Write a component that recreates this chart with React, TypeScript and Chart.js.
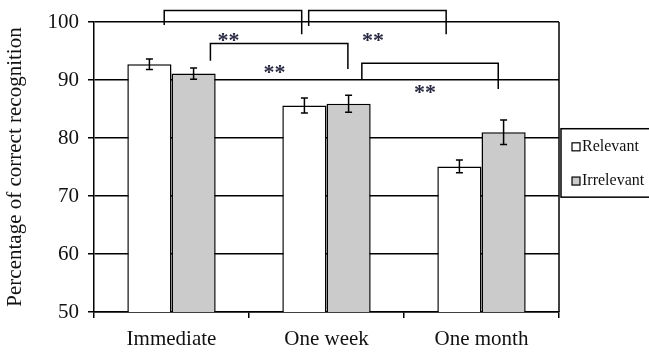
import React, { useEffect, useRef } from 'react';
import { Chart, registerables } from 'chart.js';

Chart.register(...registerables);

const categories = ['Immediate', 'One week', 'One month'];
const seriesLabels = ['Relevant', 'Irrelevant'];
const relevant = [92.7, 85.6, 75.1];
const irrelevant = [91.1, 85.9, 81.0];
const relevantErr = [0.9, 1.3, 1.1];
const irrelevantErr = [0.95, 1.45, 2.1];
const yMin = 50;
const yMax = 100;
const yStep = 10;
const yTitle = 'Percentage of correct recognition';

// significance brackets (x in category units, y in percent)
const bracketStart = [-0.047, 0.885, 0.251, 1.228];
const bracketEnd = [0.84, 1.772, 1.138, 2.108];
const bracketTop = [102.0, 102.0, 96.3, 92.9];
const bracketLeftEnd = [99.5, 99.3, 93.3, 90.0];
const bracketRightEnd = [97.9, 97.9, 91.9, 88.45];
const starX = [0.367, 1.3, 0.665, 1.636];
const starY = [97.6, 97.6, 92.0, 88.7];
const starLabels = ['**', '**', '**', '**'];

const FONT = '"Liberation Serif", "Times New Roman", serif';
const fills = ['#ffffff', '#cbcbcb'];
const errs = [relevantErr, irrelevantErr];

const extrasPlugin = {
  id: 'extras',
  afterDatasetsDraw(chart: any) {
    const ctx = chart.ctx;
    const y = chart.scales.y;
    ctx.save();
    ctx.strokeStyle = '#000';
    ctx.lineWidth = 1.5;
    chart.data.datasets.forEach((ds: any, di: number) => {
      const meta = chart.getDatasetMeta(di);
      meta.data.forEach((bar: any, i: number) => {
        const v = ds.data[i];
        const e = errs[di][i];
        const x = bar.x;
        const y1 = y.getPixelForValue(v + e);
        const y2 = y.getPixelForValue(v - e);
        ctx.beginPath();
        ctx.moveTo(x, y1);
        ctx.lineTo(x, y2);
        ctx.moveTo(x - 3.5, y1);
        ctx.lineTo(x + 3.5, y1);
        ctx.moveTo(x - 3.5, y2);
        ctx.lineTo(x + 3.5, y2);
        ctx.stroke();
      });
    });
    ctx.restore();
  },
  afterDraw(chart: any) {
    const ctx = chart.ctx;
    const xs = chart.scales.x;
    const ys = chart.scales.y;
    const area = chart.chartArea;
    ctx.save();
    ctx.strokeStyle = '#000';
    ctx.lineWidth = 1.5;
    // right border
    ctx.beginPath();
    ctx.moveTo(area.right, area.top);
    ctx.lineTo(area.right, area.bottom);
    ctx.stroke();
    // brackets
    bracketStart.forEach((bs, i) => {
      const x1 = xs.getPixelForValue(bs);
      const x2 = xs.getPixelForValue(bracketEnd[i]);
      const yt = ys.getPixelForValue(bracketTop[i]);
      const yl = ys.getPixelForValue(bracketLeftEnd[i]);
      const yr = ys.getPixelForValue(bracketRightEnd[i]);
      ctx.beginPath();
      ctx.moveTo(x1, yl);
      ctx.lineTo(x1, yt);
      ctx.lineTo(x2, yt);
      ctx.lineTo(x2, yr);
      ctx.stroke();
    });
    // stars
    ctx.fillStyle = '#2a2a44';
    ctx.font = `bold 22px ${FONT}`;
    ctx.textAlign = 'center';
    ctx.textBaseline = 'alphabetic';
    starLabels.forEach((s, i) => {
      const px = xs.getPixelForValue(starX[i]);
      const py = ys.getPixelForValue(starY[i]);
      ctx.fillText(s, px, py + 11);
    });
    // legend
    const lx = area.right + 2;
    const ly = ys.getPixelForValue(81.6);
    const lb = ys.getPixelForValue(69.8);
    ctx.fillStyle = '#fff';
    ctx.fillRect(lx, ly, 120, lb - ly);
    ctx.strokeRect(lx, ly, 120, lb - ly);
    ctx.font = `16px ${FONT}`;
    ctx.textAlign = 'left';
    ctx.textBaseline = 'middle';
    const rowH = (lb - ly) / 2;
    seriesLabels.forEach((lab, i) => {
      const cy = ly + rowH * (i + 0.5) + 1;
      ctx.fillStyle = fills[i];
      ctx.fillRect(lx + 11, cy - 4, 8, 8);
      ctx.lineWidth = 1.2;
      ctx.strokeStyle = '#000';
      ctx.strokeRect(lx + 11, cy - 4, 8, 8);
      ctx.fillStyle = '#111';
      ctx.fillText(lab, lx + 21, cy);
    });
    ctx.restore();
  },
};

export default function App() {
  const ref = useRef<HTMLCanvasElement>(null);
  useEffect(() => {
    if (!ref.current) return;
    const chart = new Chart(ref.current, {
      type: 'bar',
      data: {
        labels: categories,
        datasets: [
          {
            label: seriesLabels[0],
            data: relevant,
            backgroundColor: fills[0],
            borderColor: '#000',
            borderWidth: 1.5,
            categoryPercentage: 0.57,
            barPercentage: 1,
          },
          {
            label: seriesLabels[1],
            data: irrelevant,
            backgroundColor: fills[1],
            borderColor: '#000',
            borderWidth: 1.5,
            categoryPercentage: 0.57,
            barPercentage: 1,
          },
        ],
      },
      options: {
        responsive: false,
        animation: false,
        layout: { padding: { top: 22, right: 90, bottom: 0, left: 0 } },
        plugins: { legend: { display: false }, tooltip: { enabled: false } },
        scales: {
          x: {
            afterFit: (s: any) => {
              s.height = 42;
            },
            grid: {
              display: true,
              drawOnChartArea: false,
              drawTicks: true,
              tickLength: 6,
              color: '#000',
              lineWidth: 1.5,
              offset: true,
            },
            border: { display: true, color: '#000', width: 1.5 },
            ticks: { color: '#111', padding: 9, font: { family: FONT, size: 21 } },
          },
          y: {
            min: yMin,
            max: yMax,
            afterFit: (s: any) => {
              s.width = 94;
            },
            grid: { color: '#000', lineWidth: 1.5, tickLength: 6, drawTicks: true },
            border: { display: true, color: '#000', width: 1.5 },
            ticks: { stepSize: yStep, color: '#111', padding: 9, font: { family: FONT, size: 21 } },
            title: {
              display: true,
              text: yTitle,
              color: '#111',
              padding: { top: 3, bottom: 0 },
              font: { family: FONT, size: 21 },
            },
          },
        },
      },
      plugins: [extrasPlugin],
    });
    return () => chart.destroy();
  }, []);
  return (
    <div style={{ position: 'fixed', left: 0, top: 0, width: 649, height: 354, background: '#fff' }}>
      <canvas ref={ref} width={649} height={354} style={{ width: 649, height: 354 }} />
    </div>
  );
}
